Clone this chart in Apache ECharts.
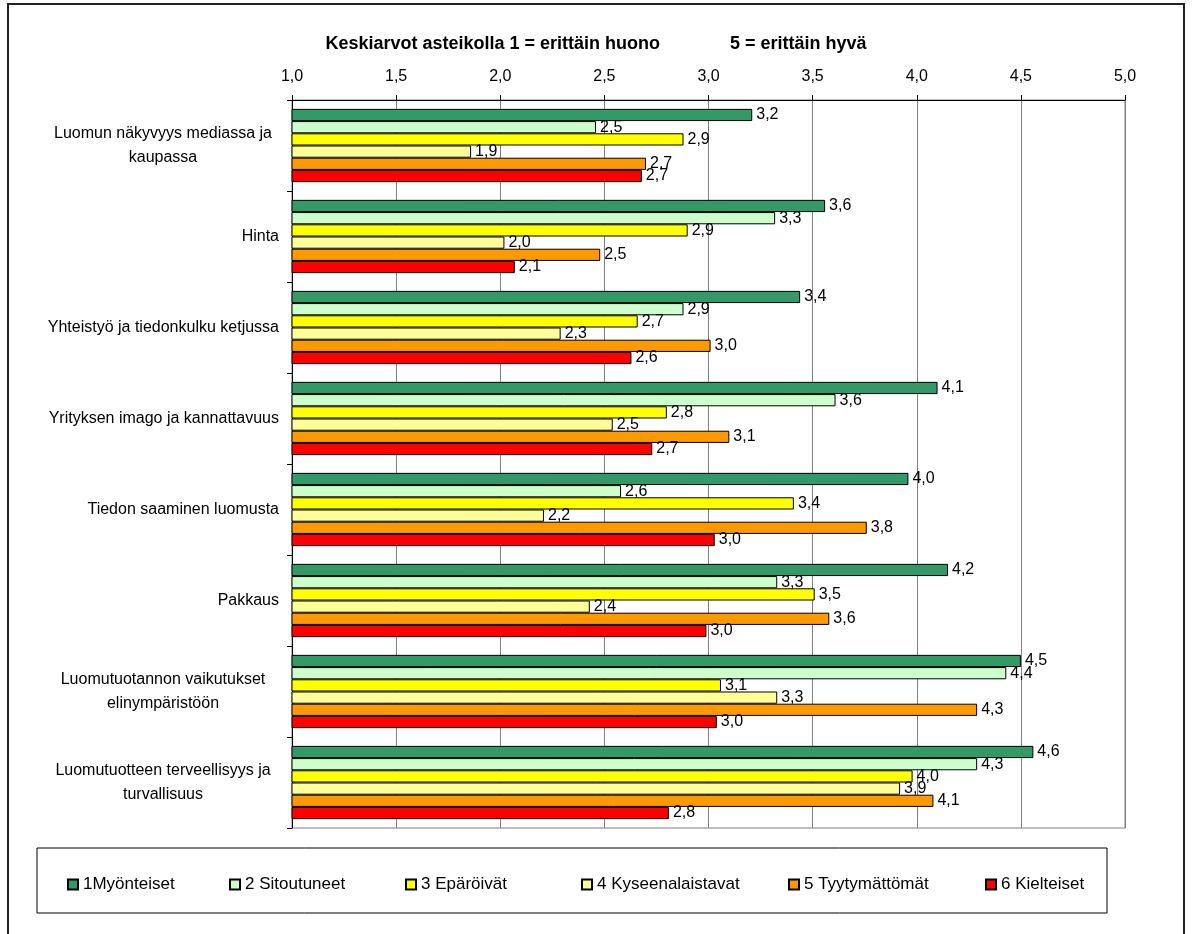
<!DOCTYPE html>
<html lang="fi">
<head>
<meta charset="utf-8">
<title>Keskiarvot</title>
<style>
  html, body { margin: 0; padding: 0; background: #fff; }
  #chart { width: 1192px; height: 934px; }
</style>
</head>
<body>
<div id="chart"></div>
<script src="https://cdn.jsdelivr.net/npm/echarts@6/dist/echarts.min.js"></script>
<script>
// kategoriat ylhäältä alas
var categories = [
    'Luomun näkyvyys mediassa ja\nkaupassa',
    'Hinta',
    'Yhteistyö ja tiedonkulku ketjussa',
    'Yrityksen imago ja kannattavuus',
    'Tiedon saaminen luomusta',
    'Pakkaus',
    'Luomutuotannon vaikutukset\nelinympäristöön',
    'Luomutuotteen terveellisyys ja\nturvallisuus'
];
var seriesNames = ['1Myönteiset', '2 Sitoutuneet', '3 Epäröivät', '4 Kyseenalaistavat', '5 Tyytymättömät', '6 Kielteiset'];
var myonteiset = [3.21, 3.56, 3.44, 4.10, 3.96, 4.15, 4.50, 4.56];
var sitoutuneet = [2.46, 3.32, 2.88, 3.61, 2.58, 3.33, 4.43, 4.29];
var eparoivat = [2.88, 2.90, 2.66, 2.80, 3.41, 3.51, 3.06, 3.98];
var kyseenalaistavat = [1.86, 2.02, 2.29, 2.54, 2.21, 2.43, 3.33, 3.92];
var tyytymattomat = [2.70, 2.48, 3.01, 3.10, 3.76, 3.58, 4.29, 4.08];
var kielteiset = [2.68, 2.07, 2.63, 2.73, 3.03, 2.99, 3.04, 2.81];
var xTicks = [1, 1.5, 2, 2.5, 3, 3.5, 4, 4.5, 5];

var colors = ['#339966', '#CCFFCC', '#FFFF00', '#FFFF99', '#FF9900', '#FF0000'];
var seriesData = [myonteiset, sitoutuneet, eparoivat, kyseenalaistavat, tyytymattomat, kielteiset];
var legendLefts = [62, 224, 400, 576, 783, 980];

function fmt(v) {
    return Number(v).toFixed(1).replace('.', ',');
}

var chart = echarts.init(document.getElementById('chart'));

var series = seriesNames.map(function (name, i) {
    return {
        name: name,
        type: 'bar',
        data: seriesData[i],
        barGap: '0%',
        barCategoryGap: '19.5%',
        itemStyle: { color: colors[i], borderColor: '#000', borderWidth: 1 },
        label: {
            show: true,
            position: 'right',
            distance: 4,
            color: '#000',
            fontSize: 16,
            fontFamily: 'Liberation Sans',
            formatter: function (p) { return fmt(p.value); }
        },
        emphasis: { disabled: true }
    };
});

var legends = seriesNames.map(function (name, i) {
    return {
        data: [name],
        left: legendLefts[i],
        top: 871,
        itemWidth: 10,
        itemHeight: 10,
        itemGap: 0,
        icon: 'rect',
        textStyle: { fontSize: 17, color: '#000', fontFamily: 'Liberation Sans' },
        selectedMode: false
    };
});

var option = {
    animation: false,
    backgroundColor: '#fff',
    textStyle: { fontFamily: 'Liberation Sans' },
    title: {
        text: 'Keskiarvot asteikolla 1 = erittäin huono              5 = erittäin hyvä',
        left: 'center',
        top: 30,
        textStyle: { fontSize: 18, fontWeight: 'bold', color: '#000', fontFamily: 'Liberation Sans' }
    },
    legend: legends,
    grid: {
        left: 292,
        right: 67,
        top: 100,
        bottom: 106,
        show: true,
        borderColor: '#808080',
        borderWidth: 1
    },
    xAxis: {
        type: 'value',
        position: 'top',
        min: xTicks[0],
        max: xTicks[xTicks.length - 1],
        interval: 0.5,
        axisLine: { show: true, lineStyle: { color: '#000', width: 1 } },
        axisTick: { show: true, length: 5, lineStyle: { color: '#000' } },
        axisLabel: {
            color: '#000',
            fontSize: 16,
            margin: 15,
            formatter: function (v) { return fmt(v); }
        },
        splitLine: { show: true, lineStyle: { color: '#808080', width: 1 } }
    },
    yAxis: {
        type: 'category',
        inverse: true,
        data: categories,
        axisLine: { show: true, lineStyle: { color: '#000', width: 1 } },
        axisTick: { show: true, length: 5, lineStyle: { color: '#000' } },
        axisLabel: {
            color: '#000',
            fontSize: 16,
            margin: 13,
            lineHeight: 24,
            formatter: function (v) {
                if (v.indexOf('\n') < 0) return v;
                return v.split('\n').map(function (s) { return '{c|' + s + '}'; }).join('\n');
            },
            rich: {
                c: { width: 232, align: 'center', fontSize: 16, color: '#000', lineHeight: 24 }
            }
        },
        splitLine: { show: false }
    },
    graphic: [
        {
            type: 'rect',
            shape: { x: 8, y: 4, width: 1176, height: 960 },
            style: { fill: 'none', stroke: '#222', lineWidth: 2 },
            silent: true
        },
        {
            type: 'rect',
            shape: { x: 37, y: 848, width: 1070, height: 65 },
            style: { fill: 'none', stroke: '#000', lineWidth: 1 },
            silent: true
        }
    ],
    series: series
};

chart.setOption(option);
window.addEventListener('resize', function () { chart.resize(); });
</script>
</body>
</html>
